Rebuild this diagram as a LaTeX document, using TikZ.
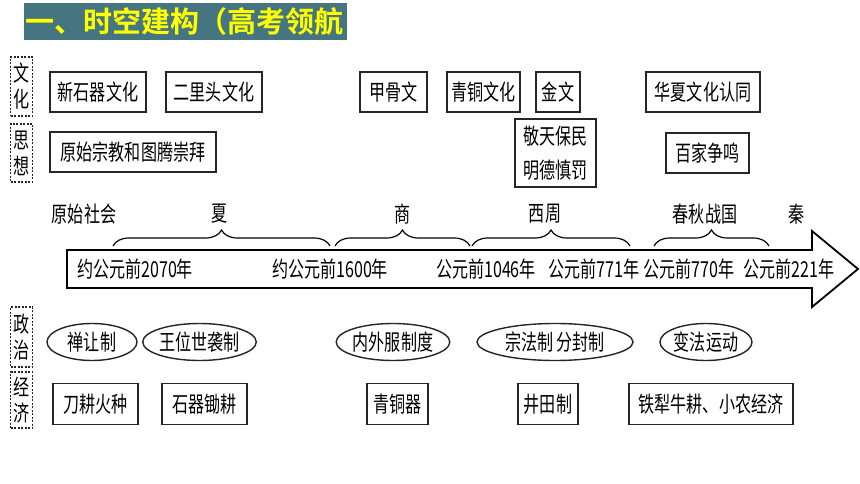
\documentclass[tikz,border=0pt]{standalone}
\usepackage{fontspec}
\setmainfont[FakeStretch=0.73]{Noto Sans CJK SC}
\newfontfamily\titlefont{Noto Sans CJK SC Bold}
\usetikzlibrary{shapes.geometric,decorations.pathreplacing}
\definecolor{banner}{RGB}{69,117,128}
\definecolor{titleyellow}{RGB}{255,255,0}

\begin{document}
\begin{tikzpicture}[x=1pt,y=-1pt,
  every node/.style={inner sep=0pt, outer sep=0pt, font=\fontsize{22}{34}\selectfont},
  box/.style={draw=black!85, line width=1.8pt, minimum height=40pt},
  oval/.style={ellipse, draw=black!85, line width=1.4pt, minimum height=37pt},
  tag/.style={draw=black!85, dash pattern=on 2pt off 1.5pt, line width=1.3pt, minimum width=22pt, align=center, font=\fontsize{22}{26}\selectfont},
  brace/.style={decorate, decoration={brace, amplitude=16pt}, line width=1.2pt}]
\fill[white] (0,0) rectangle (860,484);
\useasboundingbox (0,0) rectangle (860,484);

\fill[banner] (24,3) rectangle (347,40);
\node[anchor=west, text=titleyellow, font=\titlefont\fontsize{29}{30}\selectfont] (title) at (25,21) {一、时空建构（高考领航};

\node[tag, minimum height=59pt] (wenhua) at (21.5,86.5) {文\\化};
\node[tag, minimum height=58pt] (sixiang) at (21.5,153) {思\\想};
\node[tag, minimum height=60pt] (zhengzhi) at (21.5,337) {政\\治};
\node[tag, minimum height=56pt] (jingji) at (21.5,400) {经\\济};

\node[box, minimum width=96pt] (xinshiqi) at (98,92) {新石器文化};
\node[box, minimum width=96pt] (erlitou) at (214,92) {二里头文化};
\node[box, minimum width=67pt] (jiaguwen) at (393.5,92) {甲骨文};
\node[box, minimum width=73pt] (qingtongwh) at (483.5,92) {青铜文化};
\node[box, minimum width=44pt] (jinwen) at (558,92) {金文};
\node[box, minimum width=114pt] (huaxia) at (703,92) {华夏文化认同};

\node[box, minimum width=166pt] (zongjiao) at (133,152) {原始宗教和图腾崇拜};
\node[box, minimum width=81pt, minimum height=68pt, align=center] (jingtian) at (555.5,153) {敬天保民\\明德慎罚};
\node[box, minimum width=83pt] (baijia) at (707.5,153) {百家争鸣};

\node (yuanshi) at (84,214) {原始社会};
\node (xia) at (220,214) {夏};
\node (shang) at (403,214) {商};
\node (xizhou) at (545,214) {西周};
\node (chunqiu) at (705,214) {春秋战国};
\node (qin) at (797,214) {秦};

\draw[brace] (113,246) -- (330,246);
\draw[brace] (335,246) -- (470,246);
\draw[brace] (472,246) -- (630,246);
\draw[brace] (654,246) -- (769,246);

\draw[line width=1.8pt, line join=miter] (67,250) -- (812,250) -- (812,231) -- (858,269) -- (812,307) -- (812,288) -- (67,288) -- cycle;

\node (d2070) at (135,269) {约公元前2070年};
\node (d1600) at (330,269) {约公元前1600年};
\node (d1046) at (486,269) {公元前1046年};
\node (d771) at (594,269) {公元前771年};
\node (d770) at (689,269) {公元前770年};
\node (d221) at (789,269) {公元前221年};

\node[oval, minimum width=90pt] (shanrang) at (92,342) {禅让制};
\node[oval, minimum width=111pt] (wangwei) at (199.5,342) {王位世袭制};
\node[oval, minimum width=110pt] (neiwai) at (393,342) {内外服制度};
\node[oval, minimum width=156pt] (zongfa) at (555,342) {宗法制 分封制};
\node[oval, minimum width=92pt] (bianfa) at (706,342) {变法运动};

\node[box, minimum width=85pt, minimum height=41pt] (daogeng) at (95.5,404) {刀耕火种};
\node[box, minimum width=85pt, minimum height=41pt] (shiqi) at (204.5,404) {石器锄耕};
\node[box, minimum width=61pt, minimum height=41pt] (qingtongqi) at (397.5,404) {青铜器};
\node[box, minimum width=60pt, minimum height=41pt] (jingtianzhi) at (548,404) {井田制};
\node[box, minimum width=164pt, minimum height=41pt] (tieli) at (711,404) {铁犁牛耕、小农经济};
\end{tikzpicture}
\end{document}
